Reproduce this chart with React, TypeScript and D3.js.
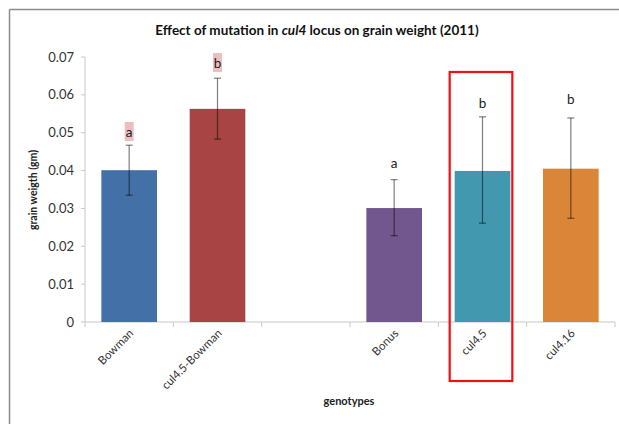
import React from "react";
import * as d3 from "d3";

const categories = ["Bowman", "cul4.5-Bowman", "", "Bonus", "cul4.5", "cul4.16"];
const values = [0.0401, 0.0563, null, 0.0301, 0.0399, 0.0405];
const errLow = [0.0335, 0.0483, null, 0.0228, 0.0261, 0.0274];
const errHigh = [0.0467, 0.0644, null, 0.0376, 0.0542, 0.0539];
const letters = ["a", "b", "", "a", "b", "b"];
const letterValues = [0.0502, 0.0684, null, 0.0418, 0.0578, 0.0589];
const highlighted = [true, true, false, false, false, false];
const colors = ["#4470A8", "#A84443", "#fff", "#72578F", "#4299AF", "#DA8538"];
const yTicks = [0, 0.01, 0.02, 0.03, 0.04, 0.05, 0.06, 0.07];
const boxedCategory = "cul4.5";

export default function App() {
  const W = 619, H = 424;
  const x0 = 85, x1 = 615, yTop = 57, yBase = 322;
  const font = "Lato, 'Open Sans', sans-serif";
  const keys = categories.map((c, i) => c || `gap${i}`);
  const x = d3.scaleBand<string>().domain(keys).range([x0, x1]).paddingInner(0.37).paddingOuter(0.185);
  const y = d3.scaleLinear().domain([0, 0.07]).range([yBase, yTop]);
  const step = (x1 - x0) / categories.length;
  const boxIdx = categories.indexOf(boxedCategory);
  const bx = (x(keys[boxIdx]) as number) - 5;
  const bw = x.bandwidth() + 7;

  return (
    <svg width={W} height={H} style={{ position: "absolute", left: 0, top: 0, background: "#fff" }} fontFamily={font}>
      <rect x={0} y={0} width={W} height={H} fill="#fff" />
      <line x1={9.5} y1={9.5} x2={W} y2={9.5} stroke="#8a8a8a" strokeWidth={1.5} />
      <line x1={9.5} y1={9.5} x2={9.5} y2={H} stroke="#8a8a8a" strokeWidth={1.5} />
      <text x={317} y={35} textAnchor="middle" fontSize={13.5} fontWeight="bold" fill="#111">
        Effect of mutation in <tspan fontStyle="italic">cul4</tspan> locus on grain weight (2011)
      </text>
      {/* y axis */}
      <line x1={x0} y1={yTop} x2={x0} y2={yBase} stroke="#c8c8c8" strokeWidth={1} />
      {yTicks.map((t) => (
        <g key={t}>
          <line x1={x0 - 4} x2={x0} y1={y(t)} y2={y(t)} stroke="#c8c8c8" />
          <text x={x0 - 11} y={y(t)} dy="0.35em" textAnchor="end" fontSize={13} fill="#333">
            {t === 0 ? "0" : t.toFixed(2)}
          </text>
        </g>
      ))}
      {/* x axis */}
      <line x1={x0} y1={yBase} x2={x1} y2={yBase} stroke="#c8c8c8" strokeWidth={1.2} />
      {d3.range(categories.length + 1).map((i) => (
        <line key={i} x1={x0 + i * step} x2={x0 + i * step} y1={yBase} y2={yBase + 5} stroke="#c8c8c8" />
      ))}
      {/* bars */}
      {values.map((v, i) =>
        v == null ? null : (
          <rect key={i} x={x(keys[i])} y={y(v)} width={x.bandwidth()} height={yBase - y(v)} fill={colors[i]} />
        )
      )}
      {/* error bars */}
      {values.map((v, i) => {
        if (v == null) return null;
        const cx = (x(keys[i]) as number) + x.bandwidth() / 2;
        const lo = errLow[i] as number, hi = errHigh[i] as number;
        return (
          <g key={i} stroke="#000" strokeOpacity={0.5} strokeWidth={1.2}>
            <line x1={cx} x2={cx} y1={y(lo)} y2={y(hi)} />
            <line x1={cx - 3.5} x2={cx + 3.5} y1={y(hi)} y2={y(hi)} />
            <line x1={cx - 3.5} x2={cx + 3.5} y1={y(lo)} y2={y(lo)} />
          </g>
        );
      })}
      {/* letters */}
      {letters.map((l, i) => {
        if (!l) return null;
        const cx = (x(keys[i]) as number) + x.bandwidth() / 2;
        const ly = y(letterValues[i] as number);
        return (
          <g key={i}>
            {highlighted[i] && <rect x={cx - 4.5} y={ly - 10} width={9} height={19} fill="#e8a8a8" opacity={0.75} />}
            <text x={cx} y={ly} dy="0.35em" textAnchor="middle" fontSize={13.5} fill="#222">{l}</text>
          </g>
        );
      })}
      {/* category labels */}
      {categories.map((c, i) =>
        c ? (
          <text key={i} transform={`translate(${(x(keys[i]) as number) + x.bandwidth() / 2 + 5},${yBase + 12}) rotate(-45)`} textAnchor="end" fontSize={11.5} fill="#333">
            {c}
          </text>
        ) : null
      )}
      {/* axis titles */}
      <text transform={`translate(37,${190}) rotate(-90)`} textAnchor="middle" fontSize={10.5} fontWeight="bold" fill="#222">grain weigth (gm)</text>
      <text x={349} y={405} textAnchor="middle" fontSize={11} fontWeight="bold" fill="#222">genotypes</text>
      {/* highlight box */}
      <rect x={bx} y={72} width={bw} height={309} fill="none" stroke="#f01010" strokeWidth={2.2} />
    </svg>
  );
}
